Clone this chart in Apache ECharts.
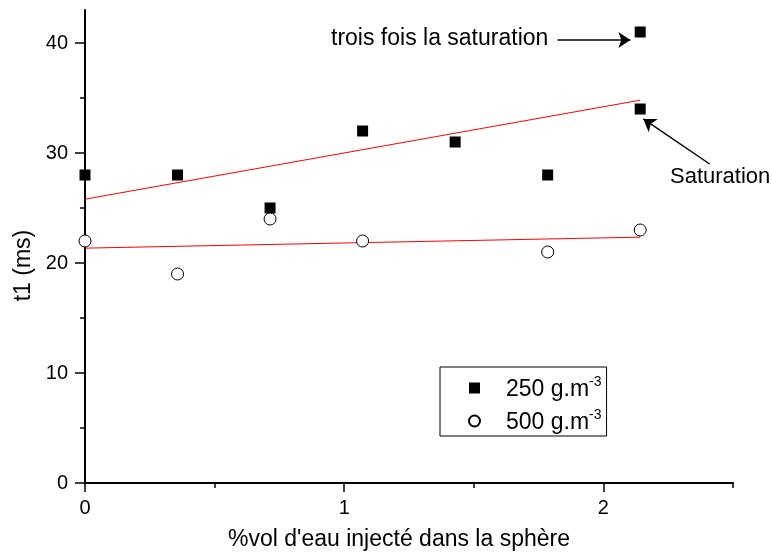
<!DOCTYPE html>
<html>
<head>
<meta charset="utf-8">
<title>t1 en fonction du %vol d'eau</title>
<script src="https://cdn.jsdelivr.net/npm/echarts@6/dist/echarts.min.js"></script>
<style>
  html, body { margin: 0; padding: 0; background: #fff; }
  #main { width: 772px; height: 556px; }
</style>
</head>
<body>
<div id="main"></div>
<script>
// valeurs
var x250 = [0, 0.357, 0.714, 1.071, 1.428, 1.785, 2.142, 2.142];
var t250 = [28, 28, 25, 32, 31, 28, 34, 41];
var x500 = [0, 0.357, 0.714, 1.071, 1.785, 2.142];
var t500 = [22, 19, 24, 22, 21, 23];

// droites de regression (extremites)
var fitX = [0, 2.142];
var fit250 = [25.8, 34.8];
var fit500 = [21.35, 22.35];

// graduations
var xMajor = [0, 1, 2];
var xMinor = [0.5, 1.5, 2.5];
var yMajor = [0, 10, 20, 30, 40];
var yMinor = [5, 15, 25, 35];

// fleches d'annotation (coordonnees donnees)
var arrowTrois = [[1.823, 40.27], [2.104, 40.27]];
var arrowSat = [[2.41, 29.0], [2.154, 33.1]];

var FONT = '"Liberation Sans", Arial, Helvetica, sans-serif';

function pairs(xs, ys) {
  return xs.map(function (x, i) { return [x, ys[i]]; });
}

var chart = echarts.init(document.getElementById('main'));

var option = {
  animation: false,
  backgroundColor: '#fff',
  textStyle: { fontFamily: FONT, color: '#000' },
  grid: { left: 85, top: 10, right: 39, bottom: 69 },
  xAxis: [{
    type: 'value', min: 0, max: 2.5,
    name: "%vol d'eau injecté dans la sphère",
    nameLocation: 'middle', nameGap: 45,
    nameTextStyle: { fontSize: 23, color: '#000', fontFamily: FONT, padding: [0, 20, 0, 0] },
    axisLine: { show: true, onZero: false, lineStyle: { color: '#000', width: 2 } },
    axisTick: { show: true, customValues: xMajor, length: 9, lineStyle: { color: '#000', width: 1.5 } },
    axisLabel: { show: true, customValues: xMajor, fontSize: 20, color: '#000', margin: 15, fontFamily: FONT },
    splitLine: { show: false }
  }, {
    type: 'value', min: 0, max: 2.5, position: 'bottom',
    axisLine: { show: false },
    axisTick: { show: true, customValues: xMinor, length: 5, lineStyle: { color: '#000', width: 1.5 } },
    axisLabel: { show: false },
    splitLine: { show: false }
  }],
  yAxis: [{
    type: 'value', min: 0, max: 43,
    name: 't1 (ms)',
    nameLocation: 'middle', nameGap: 50,
    nameTextStyle: { fontSize: 23, color: '#000', fontFamily: FONT, padding: [0, 38, 0, 0] },
    axisLine: { show: true, onZero: false, lineStyle: { color: '#000', width: 2 } },
    axisTick: { show: true, customValues: yMajor, length: 10, lineStyle: { color: '#000', width: 1.5 } },
    axisLabel: { show: true, customValues: yMajor, fontSize: 20, color: '#000', margin: 17, fontFamily: FONT },
    splitLine: { show: false }
  }, {
    type: 'value', min: 0, max: 43, position: 'left',
    axisLine: { show: false },
    axisTick: { show: true, customValues: yMinor, length: 5, lineStyle: { color: '#000', width: 1.5 } },
    axisLabel: { show: false },
    splitLine: { show: false }
  }],
  legend: {
    orient: 'vertical',
    left: 440, top: 367,
    data: ['250', '500'],
    formatter: function (name) { return '{n|' + name + ' g.m}{sup|-3}'; },
    itemWidth: 11, itemHeight: 11, itemGap: 7,
    padding: [8, 5, 2, 28],
    borderColor: '#000', borderWidth: 1,
    textStyle: {
      fontSize: 23, color: '#000', fontFamily: FONT,
      padding: [0, 0, 0, 21],
      rich: {
        n: { fontSize: 23, color: '#000', fontFamily: FONT, verticalAlign: 'bottom' },
        sup: { fontSize: 14, color: '#000', fontFamily: FONT, verticalAlign: 'top', padding: [0, 0, 12, 0] }
      }
    }
  },
  graphic: [{
    type: 'text', left: 331, top: 27,
    style: { text: 'trois fois la saturation', fontSize: 23, fontFamily: FONT, fill: '#000' }
  }, {
    type: 'text', left: 670, top: 166,
    style: { text: 'Saturation', fontSize: 22, fontFamily: FONT, fill: '#000' }
  }],
  series: [{
    type: 'line', name: 'fit250',
    data: pairs(fitX, fit250),
    showSymbol: false, symbol: 'none',
    lineStyle: { color: '#ff0000', width: 1 },
    z: 1
  }, {
    type: 'line', name: 'fit500',
    data: pairs(fitX, fit500),
    showSymbol: false, symbol: 'none',
    lineStyle: { color: '#ff0000', width: 1 },
    z: 1
  }, {
    type: 'scatter', name: '250',
    data: pairs(x250, t250),
    symbol: 'rect', symbolSize: 11,
    itemStyle: { color: '#000', opacity: 1 },
    z: 3,
    markLine: {
      silent: true,
      symbol: ['none', 'arrow'], symbolSize: 12,
      label: { show: false },
      itemStyle: { color: '#000' },
      lineStyle: { color: '#000', width: 1.5, type: 'solid', opacity: 1 },
      emphasis: { disabled: true },
      data: [
        [{ coord: arrowTrois[0] }, { coord: arrowTrois[1] }],
        [{ coord: arrowSat[0] }, { coord: arrowSat[1] }]
      ]
    }
  }, {
    type: 'scatter', name: '500',
    data: pairs(x500, t500),
    symbol: 'circle', symbolSize: 12,
    itemStyle: { color: '#fff', borderColor: '#000', borderWidth: 1, opacity: 1 },
    z: 3
  }]
};

chart.setOption(option);
</script>
</body>
</html>
